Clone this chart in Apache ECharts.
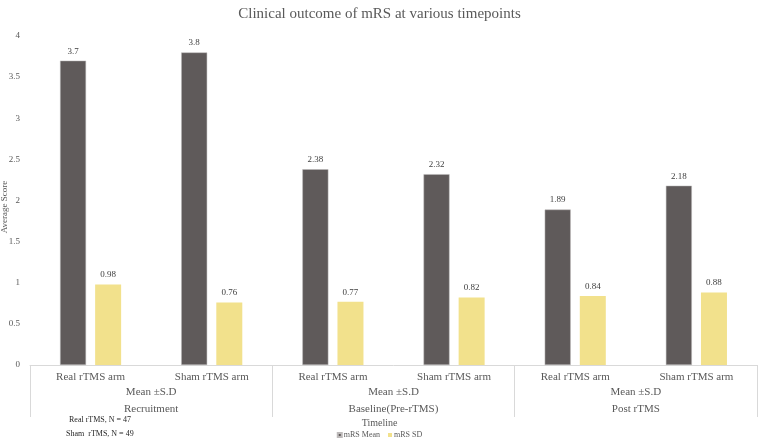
<!DOCTYPE html>
<html>
<head>
<meta charset="utf-8">
<script src="https://cdn.jsdelivr.net/npm/echarts@6/dist/echarts.min.js"></script>
<style>html,body{margin:0;padding:0;background:#fff}#c{width:759px;height:447px}</style>
</head>
<body>
<div id="c"></div>
<script>
var armCategories = ["Real rTMS arm", "Sham rTMS arm", "Real rTMS arm", "Sham rTMS arm", "Real rTMS arm", "Sham rTMS arm"];
var timepoints = ["Recruitment", "Baseline(Pre-rTMS)", "Post rTMS"];
var groupLabel = "Mean ±S.D";
var mrsMean = [3.7, 3.8, 2.38, 2.32, 1.89, 2.18];
var mrsSD = [0.98, 0.76, 0.77, 0.82, 0.84, 0.88];
var yTicks = [0, 0.5, 1, 1.5, 2, 2.5, 3, 3.5, 4];

var FONT = '"Liberation Serif", "Times New Roman", serif';
var chart = echarts.init(document.getElementById('c'), null, {renderer: 'canvas'});
chart.setOption({
  animation: false,
  textStyle: {fontFamily: FONT},
  title: {
    text: 'Clinical outcome of mRS at various timepoints',
    left: 'center', top: 2,
    textStyle: {fontFamily: FONT, fontSize: 15, fontWeight: 'normal', color: '#595959'}
  },
  grid: {left: 30, right: 2, top: 36, bottom: 82, containLabel: false, outerBoundsMode: 'none'},
  legend: {
    bottom: 3, left: 'center',
    itemWidth: 4, itemHeight: 4, itemGap: 8,
    icon: 'rect',
    textStyle: {fontFamily: FONT, fontSize: 8, color: '#595959', padding: [0, 0, 0, -3]},
    data: ['mRS Mean', 'mRS SD']
  },
  xAxis: [{
    type: 'category',
    data: armCategories,
    axisLine: {lineStyle: {color: '#d9d9d9'}},
    axisTick: {show: false},
    axisLabel: {interval: 0, margin: 7, fontFamily: FONT, fontSize: 11, color: '#595959'}
  }, {
    type: 'category',
    data: timepoints,
    position: 'bottom',
    axisLine: {show: false},
    axisTick: {show: true, length: 52, lineStyle: {color: '#d9d9d9'}},
    axisLabel: {
      interval: 0, margin: 19, fontFamily: FONT, fontSize: 11, color: '#595959', lineHeight: 17,
      formatter: function (v) { return groupLabel + '\n' + v; }
    }
  }],
  yAxis: {
    type: 'value', min: 0, max: 4, interval: 0.5,
    axisLine: {show: false}, axisTick: {show: false},
    splitLine: {show: false},
    axisLabel: {fontFamily: FONT, fontSize: 9, color: '#595959', margin: 10,
      formatter: function (v) { return yTicks.indexOf(v) >= 0 ? String(v) : ''; }}
  },
  series: [{
    name: 'mRS Mean', type: 'bar', data: mrsMean,
    barWidth: 26, barGap: '35%',
    itemStyle: {color: '#5f5a5a', borderColor: '#bdbaba', borderWidth: 0.5},
    label: {show: true, position: 'top', distance: 5, fontFamily: FONT, fontSize: 9, color: '#404040'}
  }, {
    name: 'mRS SD', type: 'bar', data: mrsSD,
    barWidth: 26,
    itemStyle: {color: '#f2e18c'},
    label: {show: true, position: 'top', distance: 5, fontFamily: FONT, fontSize: 9, color: '#404040'}
  }],
  graphic: [{
    type: 'text', x: 5, y: 207, rotation: Math.PI / 2,
    style: {text: 'Average Score', font: '9px ' + FONT, fill: '#595959', align: 'center', verticalAlign: 'middle'}
  }, {
    type: 'text', left: 'center', top: 418,
    style: {text: 'Timeline', font: '10px ' + FONT, fill: '#595959'}
  }, {
    type: 'text', left: 69, top: 416,
    style: {text: 'Real rTMS, N = 47', font: '8px ' + FONT, fill: '#262626'}
  }, {
    type: 'text', left: 66, top: 430,
    style: {text: 'Sham  rTMS, N = 49', font: '8px ' + FONT, fill: '#262626'}
  }]
});
</script>
</body>
</html>
